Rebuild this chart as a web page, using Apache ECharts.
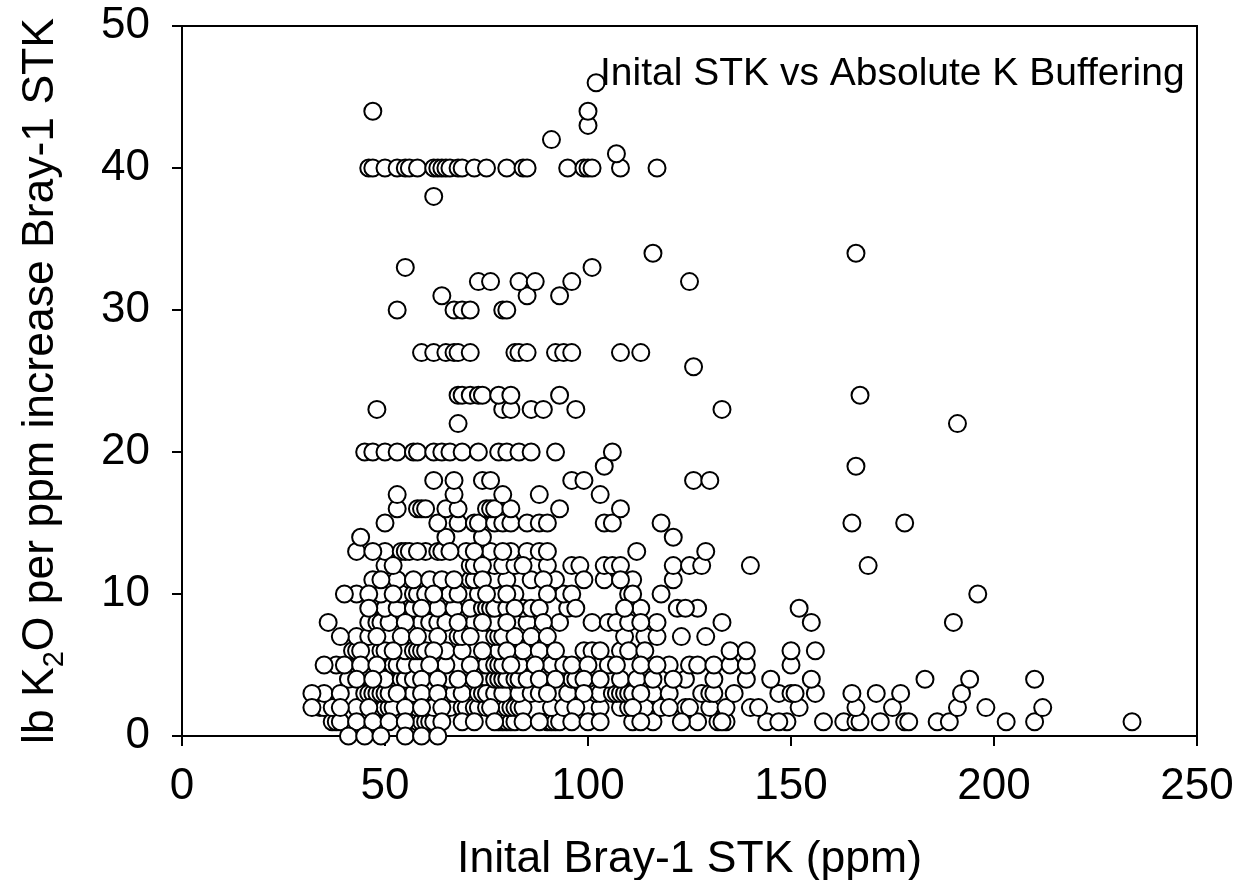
<!DOCTYPE html>
<html><head><meta charset="utf-8">
<style>html,body{margin:0;padding:0;background:#fff}#c{width:1251px;height:880px}</style>
<script src="https://cdn.jsdelivr.net/npm/echarts@6/dist/echarts.min.js"></script>
</head><body><div id="c"></div>
<script>
const xTitle = 'Inital Bray-1 STK (ppm)';
const noteText = 'Inital STK vs Absolute K Buffering';
// circles partly hidden by others, one list per y value
const stk1 = [37,38,39,58,59,60,61,62,78,79,80,81,82,90,91,92,93,111,116,127,132,134,144,149,158,163,166,167,172,178,179,186,189,203,210,234];
const stk2 = [34,35,37,43,49,50,51,52,58,60,62,66,69,70,72,73,75,78,80,81,82,83,84,91,94,100,103,108,110,114,118,124,125,130,134,140,142,152,166,175,191,198,212];
const stk3 = [35,45,46,47,48,49,50,51,57,66,67,69,73,74,75,77,79,83,86,88,95,102,103,106,107,108,109,110,111,116,120,128,130,131,136,147,150,151,156,165,171,177,192];
const stk4 = [41,50,54,55,57,66,68,77,78,79,80,82,83,85,96,97,105,108,112,116,124,131,139,145,155,183,194,210];
const stk5 = [38,52,53,55,58,64,65,74,75,77,78,79,83,91,94,105,120,125,127,131,135,139,150];
const stk6 = [42,43,49,50,55,57,58,59,60,65,69,78,84,99,101,108,135,139,150,156];
const stk7 = [43,46,68,69,77,78,79,82,109,114,117,123,129];
const stk8 = [46,48,49,51,59,61,63,65,72,75,77,85,93,101,105,107,110,117,133,155,190];
const stk9 = [50,53,57,63,67,71,74,75,76,77,80,84,86,95,113,122,127,152];
const stk10 = [43,49,54,57,58,60,66,68,73,78,82,94,110,196];
const stk11 = [47,53,57,61,64,71,72,75,77,80,86,92,104,111,121];
const stk12 = [50,71,72,77,79,82,90,96,98,104,106,108,121,125,128,140,169];
const stk13 = [43,50,54,55,56,60,63,64,70,75,76,81,85,88,129];
const stk14 = [44,65,74,121];
const stk15 = [50,63,68,72,73,77,79,81,85,88,90,104,106,118,165,178];
const stk16 = [53,58,59,60,65,68,75,76,77,81,93,108];
const stk17 = [53,67,79,88,103];
const stk18 = [62,67,74,76,96,99,126,130];
const stk19 = [104,166];
const stk20 = [45,47,50,53,57,58,62,64,66,69,73,78,80,83,86,92,106];
const stk22 = [68,191];
const stk23 = [48,79,81,86,89,97,133];
const stk24 = [68,69,71,73,74,78,81,93,167];
const stk26 = [126];
const stk27 = [59,62,65,67,68,71,82,83,85,92,94,96,108,113];
const stk30 = [53,67,69,71,79,80];
const stk31 = [64,85,93];
const stk32 = [73,76,83,87,96,125];
const stk33 = [55,101];
const stk34 = [116,166];
const stk38 = [62];
const stk40 = [46,47,50,53,55,56,58,62,63,64,65,66,68,69,72,75,80,84,85,95,99,100,101,108,117];
const stk41 = [107];
const stk42 = [91];
const stk43 = [100];
const stk44 = [47,100];
const stk46 = [102];
// whole circles, drawn over the others
const top0 = [41,45,49,55,59,63];
const top1 = [43,47,51,55,64,69,72,77,84,88,96,100,103,113,123,133,147];
const top2 = [32,39,46,55,59,64,76,97,111,120];
const top3 = [32,39,53,59,63,90,99,113];
const top4 = [43,47,59,63,72,88,92,99,103,121];
const top5 = [35,40,44,48,61,71,81,87,96,100,107,113,117];
const top6 = [44,52,62,74,80,88,92,103,110,114];
const top7 = [39,48,54,58,63,71,86,90];
const top8 = [36,55,68,74,80,89,113];
const top9 = [46,59,82,88,97,109,124];
const top10 = [40,46,52,62,75,80,90,96,111,118];
const top11 = [49,67,74,89,99,108];
const top12 = [52,74,84];
const top13 = [47,58,66,72,79,90,112];

const backRows = [[1,stk1],[2,stk2],[3,stk3],[4,stk4],[5,stk5],[6,stk6],[7,stk7],[8,stk8],[9,stk9],[10,stk10],[11,stk11],[12,stk12],[13,stk13],[14,stk14],[15,stk15],[16,stk16],[17,stk17],[18,stk18],[19,stk19],[20,stk20],[22,stk22],[23,stk23],[24,stk24],[26,stk26],[27,stk27],[30,stk30],[31,stk31],[32,stk32],[33,stk33],[34,stk34],[38,stk38],[40,stk40],[41,stk41],[42,stk42],[43,stk43],[44,stk44],[46,stk46]];
const topRows = [[13,top13],[12,top12],[11,top11],[10,top10],[9,top9],[8,top8],[7,top7],[6,top6],[5,top5],[4,top4],[3,top3],[2,top2],[1,top1],[0,top0]];
const toPoints = rows => rows.flatMap(([y,xs]) => xs.map(x => [x,y]));

const font = '"Liberation Sans", Arial, sans-serif';
const dot = {type:'scatter',symbol:'circle',symbolSize:17,clip:false,
  itemStyle:{color:'#fff',borderColor:'#000',borderWidth:2,opacity:1},emphasis:{disabled:true}};
const chart = echarts.init(document.getElementById('c'),null,{renderer:'canvas'});
chart.setOption({
  animation:false,
  backgroundColor:'#fff',
  title:{text:noteText,left:600,top:55,padding:0,z:20,textStyle:{fontFamily:font,fontSize:39,fontWeight:'normal',color:'#000'}},
  grid:{left:182,right:54,top:26,bottom:144,show:true,borderColor:'#000',borderWidth:2,backgroundColor:'transparent',containLabel:false,outerBoundsMode:'none'},
  xAxis:{type:'value',min:0,max:250,interval:50,
    name:xTitle,nameLocation:'middle',nameGap:101,
    nameTextStyle:{fontFamily:font,fontSize:44.5,color:'#000'},
    axisLine:{show:true,onZero:false,lineStyle:{color:'#000',width:2}},
    axisTick:{show:true,length:10,lineStyle:{color:'#000',width:2}},
    axisLabel:{fontFamily:font,fontSize:44,color:'#000',margin:29},
    splitLine:{show:false}},
  yAxis:{type:'value',min:0,max:50,interval:10,
    name:'{a|lb K}{s|2}{a|O per ppm increase Bray-1 STK}',nameLocation:'middle',nameGap:113,nameRotate:90,
    nameTextStyle:{rich:{a:{fontFamily:font,fontSize:44.5,color:'#000'},s:{fontFamily:font,fontSize:29,color:'#000',verticalAlign:'top',padding:[27,0,0,0]}}},
    axisLine:{show:true,onZero:false,lineStyle:{color:'#000',width:2}},
    axisTick:{show:true,length:10,lineStyle:{color:'#000',width:2}},
    axisLabel:{fontFamily:font,fontSize:44,color:'#000',margin:32},
    splitLine:{show:false}},
  series:[
    Object.assign({},dot,{z:2,data:toPoints(backRows)}),
    Object.assign({},dot,{z:3,data:toPoints(topRows)})
  ]
});
</script></body></html>
